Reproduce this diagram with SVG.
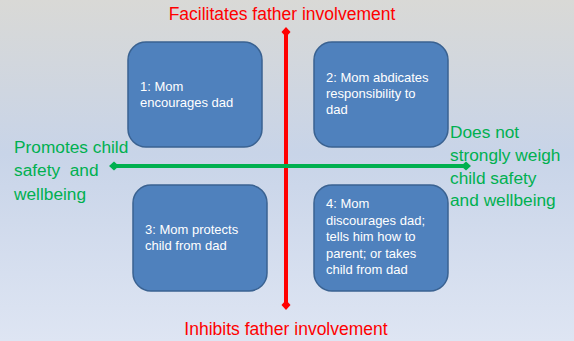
<svg xmlns="http://www.w3.org/2000/svg" width="574" height="341" viewBox="0 0 574 341">
<defs>
<linearGradient id="bg" x1="0" y1="0" x2="0" y2="1">
<stop offset="0" stop-color="#d9d9d6"/>
<stop offset="0.45" stop-color="#c8d4e8"/>
<stop offset="1" stop-color="#dee5f3"/>
</linearGradient>
<marker id="dr" viewBox="-5 -5 10 10" markerWidth="10" markerHeight="10" refX="0" refY="0" markerUnits="userSpaceOnUse" orient="auto">
<polygon points="-5,0 0,-4.5 5,0 0,4.5" fill="#ff0000"/>
</marker>
<marker id="dg" viewBox="-5 -5 10 10" markerWidth="10" markerHeight="10" refX="0" refY="0" markerUnits="userSpaceOnUse" orient="auto">
<polygon points="-5,0 0,-4.5 5,0 0,4.5" fill="#00b050"/>
</marker>
</defs>
<style>
.box{fill:#4f81bd;stroke:#3a6291;stroke-width:1.5}
.bt{font-family:"Liberation Sans",Arial,sans-serif;font-size:13px;fill:#ffffff}
.red{font-family:"Liberation Sans",Arial,sans-serif;font-size:17.5px;fill:#ff0000}
.grn{font-family:"Liberation Sans",Arial,sans-serif;font-size:17.3px;fill:#00b050}
</style>
<rect x="0" y="0" width="574" height="341" fill="url(#bg)"/>
<g id="node1">
<rect class="box" x="128" y="42" width="134" height="105" rx="18"/>
<text class="bt" x="140" y="91">1: Mom</text>
<text class="bt" x="140" y="107">encourages dad</text>
</g>
<g id="node2">
<rect class="box" x="314" y="42" width="134" height="105" rx="18"/>
<text class="bt" x="326" y="82">2: Mom abdicates</text>
<text class="bt" x="326" y="98">responsibility to</text>
<text class="bt" x="326" y="114">dad</text>
</g>
<g id="node3">
<rect class="box" x="133" y="185" width="134" height="106" rx="18"/>
<text class="bt" x="145" y="234">3: Mom protects</text>
<text class="bt" x="145" y="250">child from dad</text>
</g>
<g id="node4">
<rect class="box" x="314" y="185" width="134" height="106" rx="18"/>
<text class="bt" x="326" y="208">4: Mom</text>
<text class="bt" x="326" y="225">discourages dad;</text>
<text class="bt" x="326" y="241">tells him how to</text>
<text class="bt" x="326" y="258">parent; or takes</text>
<text class="bt" x="326" y="274">child from dad</text>
</g>
<g id="connectors">
<line x1="286" y1="32" x2="286" y2="305" stroke="#ff0000" stroke-width="4" marker-start="url(#dr)" marker-end="url(#dr)"/>
<line x1="114" y1="166" x2="466" y2="166" stroke="#00b050" stroke-width="4" marker-start="url(#dg)" marker-end="url(#dg)"/>
</g>
<g id="labels">
<text class="red" x="282" y="20" text-anchor="middle">Facilitates father involvement</text>
<text class="red" x="286" y="335" text-anchor="middle">Inhibits father involvement</text>
<text class="grn" x="14" y="153">Promotes child</text>
<text class="grn" x="14" y="176" xml:space="preserve">safety  and</text>
<text class="grn" x="14" y="200">wellbeing</text>
<text class="grn" x="450" y="138">Does not</text>
<text class="grn" x="450" y="161">strongly weigh</text>
<text class="grn" x="450" y="184">child safety</text>
<text class="grn" x="450" y="206">and wellbeing</text>
</g>
</svg>
